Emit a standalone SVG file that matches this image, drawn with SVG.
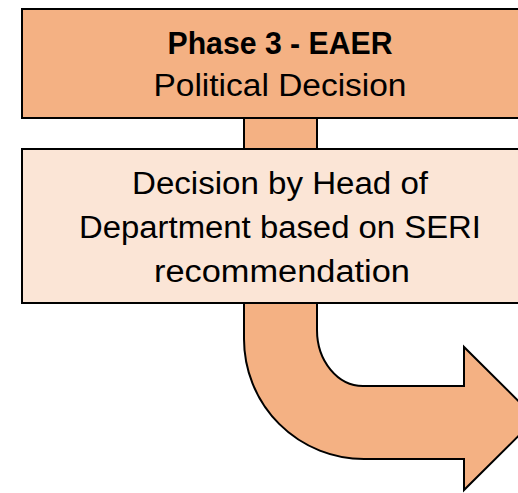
<svg xmlns="http://www.w3.org/2000/svg" width="518" height="493" viewBox="0 0 518 493">
<style>
.shape{stroke:#000;stroke-width:2;stroke-linejoin:miter}
.orange{fill:#F4B183}
.light{fill:#FBE5D6}
text{font-family:"Liberation Sans",Arial,sans-serif;font-size:31px;fill:#000;text-anchor:middle}
.b{font-weight:bold}
</style>
<rect width="518" height="493" fill="#fff"/>
<g id="connectors">
<path class="shape orange" d="M244,118 L244,339 A120,120 0 0 0 364,459 L464,459 L464,490 L536,418.5 L464,347 L464,386 L363,386 A46,56 0 0 1 317,330 L317,118 Z"/>
</g>
<g id="phase3">
<rect class="shape orange" x="22" y="9" width="530" height="109"/>
<text class="b" x="280" y="54" textLength="225" lengthAdjust="spacingAndGlyphs">Phase 3 - EAER</text>
<text x="280" y="96" textLength="253" lengthAdjust="spacingAndGlyphs">Political Decision</text>
</g>
<g id="decision">
<rect class="shape light" x="22" y="149" width="530" height="154"/>
<text x="280" y="194" textLength="296" lengthAdjust="spacingAndGlyphs">Decision by Head of</text>
<text x="280" y="238" textLength="402" lengthAdjust="spacingAndGlyphs">Department based on SERI</text>
<text x="282" y="282" textLength="256" lengthAdjust="spacingAndGlyphs">recommendation</text>
</g>
</svg>
